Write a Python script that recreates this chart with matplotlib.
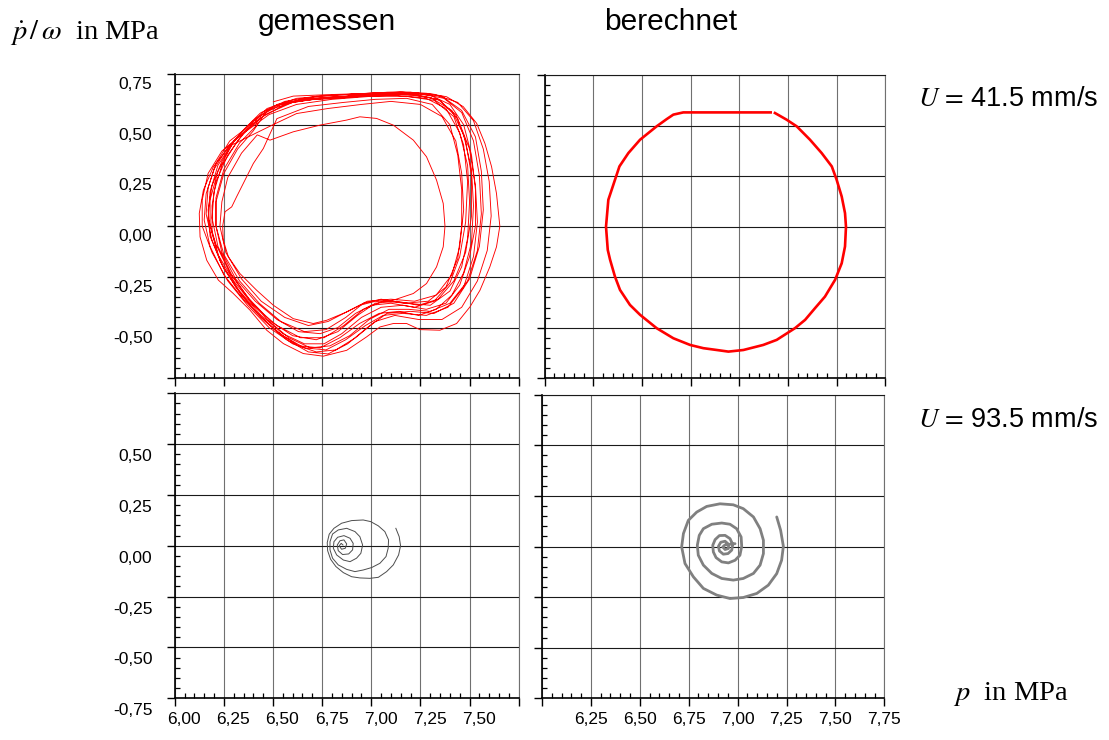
import matplotlib
matplotlib.use("Agg")
import matplotlib.pyplot as plt
import matplotlib.transforms as mtransforms
from matplotlib.ticker import FixedLocator, FixedFormatter, MultipleLocator

plt.rcParams["font.family"] = ["Liberation Sans", "DejaVu Sans"]
plt.rcParams["mathtext.fontset"] = "stix"

# ---------------------------------------------------------------- data
p_ticks = [6.00, 6.25, 6.50, 6.75, 7.00, 7.25, 7.50, 7.75]
v_ticks = [-0.75, -0.50, -0.25, 0.00, 0.25, 0.50, 0.75]

column_titles = ["gemessen", "berechnet"]
speed_labels = ["41.5 mm/s", "93.5 mm/s"]

# measured trajectory, U = 41.5 mm/s (p in MPa, dp/omega in MPa), one list per cycle
gem41_loop1 = [(6.502, 0.613), (6.603, 0.641), (6.773, 0.648), (7.000, 0.655), (7.146, 0.663),
               (7.281, 0.655), (7.383, 0.638), (7.468, 0.589), (7.536, 0.507), (7.578, 0.408),
               (7.612, 0.293), (7.637, 0.161), (7.654, 0.000), (7.637, -0.102), (7.603, -0.201),
               (7.553, -0.316), (7.502, -0.398), (7.434, -0.480), (7.349, -0.513), (7.247, -0.510),
               (7.180, -0.480), (7.112, -0.480), (7.044, -0.497), (6.976, -0.546), (6.875, -0.612),
               (6.756, -0.641), (6.654, -0.628), (6.553, -0.579), (6.468, -0.513), (6.383, -0.414),
               (6.298, -0.332), (6.222, -0.266), (6.163, -0.168), (6.129, -0.053), (6.125, 0.063),
               (6.146, 0.178), (6.197, 0.293), (6.264, 0.375), (6.349, 0.474), (6.434, 0.556)]
gem41_loop2 = [(6.40, 0.52), (6.52, 0.60), (6.68, 0.63), (6.85, 0.64), (7.00, 0.65), (7.15, 0.655),
               (7.30, 0.645), (7.40, 0.60), (7.47, 0.50), (7.51, 0.35), (7.53, 0.18), (7.53, 0.00),
               (7.50, -0.15), (7.45, -0.29), (7.38, -0.38), (7.28, -0.41), (7.16, -0.39), (7.05, -0.40),
               (6.95, -0.45), (6.85, -0.53), (6.76, -0.58), (6.66, -0.58), (6.55, -0.53), (6.44, -0.44),
               (6.33, -0.32), (6.24, -0.19), (6.18, -0.05), (6.17, 0.08), (6.19, 0.20), (6.24, 0.32),
               (6.31, 0.43)]
gem41_loop3 = [(6.48, 0.55), (6.62, 0.60), (6.80, 0.625), (7.00, 0.64), (7.18, 0.64), (7.32, 0.62),
               (7.42, 0.54), (7.47, 0.40), (7.49, 0.22), (7.48, 0.02), (7.45, -0.15), (7.40, -0.28),
               (7.32, -0.37), (7.22, -0.40), (7.10, -0.38), (7.00, -0.39), (6.92, -0.43), (6.83, -0.50),
               (6.74, -0.53), (6.63, -0.52), (6.52, -0.46), (6.41, -0.37), (6.31, -0.26), (6.24, -0.13),
               (6.21, 0.00), (6.21, 0.12), (6.25, 0.26), (6.32, 0.38), (6.40, 0.47)]
gem41_loop4 = [(6.38, 0.50), (6.50, 0.59), (6.65, 0.625), (6.82, 0.635), (7.00, 0.65), (7.20, 0.66),
               (7.36, 0.64), (7.46, 0.57), (7.53, 0.44), (7.56, 0.27), (7.57, 0.08), (7.55, -0.10),
               (7.50, -0.26), (7.42, -0.38), (7.32, -0.43), (7.20, -0.42), (7.08, -0.43), (6.98, -0.50),
               (6.88, -0.58), (6.78, -0.63), (6.68, -0.62), (6.57, -0.56), (6.46, -0.47), (6.35, -0.36),
               (6.25, -0.24), (6.18, -0.10), (6.15, 0.03), (6.16, 0.16), (6.20, 0.28), (6.27, 0.39)]
gem41_loop5 = [(6.43, 0.53), (6.58, 0.61), (6.75, 0.63), (6.95, 0.64), (7.12, 0.645), (7.28, 0.63),
               (7.38, 0.58), (7.45, 0.46), (7.49, 0.30), (7.50, 0.12), (7.49, -0.06), (7.46, -0.20),
               (7.40, -0.32), (7.30, -0.39), (7.18, -0.38), (7.06, -0.37), (6.96, -0.41), (6.86, -0.49),
               (6.76, -0.55), (6.64, -0.55), (6.52, -0.49), (6.40, -0.39), (6.30, -0.27), (6.22, -0.14),
               (6.18, 0.00), (6.18, 0.13), (6.22, 0.27), (6.29, 0.40)]
gem41_loop6 = [(6.50, 0.50), (6.62, 0.555), (6.78, 0.58), (6.95, 0.60), (7.10, 0.615), (7.25, 0.60),
               (7.36, 0.54), (7.43, 0.42), (7.46, 0.26), (7.47, 0.08), (7.45, -0.10), (7.41, -0.24),
               (7.33, -0.34), (7.22, -0.37), (7.10, -0.36), (6.98, -0.37), (6.88, -0.42), (6.78, -0.47),
               (6.68, -0.49), (6.56, -0.45), (6.44, -0.37), (6.34, -0.26), (6.26, -0.13), (6.23, 0.00),
               (6.24, 0.12), (6.27, 0.24), (6.34, 0.36), (6.42, 0.45)]
gem41_loop7 = [(6.485, 0.424), (6.603, 0.465), (6.739, 0.498), (6.875, 0.523), (6.942, 0.539),
               (7.027, 0.531), (7.112, 0.498), (7.214, 0.424), (7.281, 0.342), (7.332, 0.227),
               (7.366, 0.112), (7.375, 0.000), (7.366, -0.102), (7.332, -0.201), (7.281, -0.283),
               (7.214, -0.332), (7.112, -0.365), (7.010, -0.373), (6.942, -0.390), (6.875, -0.423),
               (6.773, -0.464), (6.705, -0.480), (6.603, -0.456), (6.502, -0.390), (6.417, -0.316),
               (6.332, -0.234), (6.273, -0.151), (6.247, -0.069), (6.244, 0.000), (6.256, 0.071),
               (6.290, 0.095), (6.315, 0.145), (6.349, 0.211), (6.400, 0.309), (6.451, 0.383)]
gem41_loop8 = [(6.36, 0.48), (6.47, 0.58), (6.62, 0.63), (6.80, 0.645), (6.98, 0.655), (7.16, 0.66),
               (7.32, 0.65), (7.44, 0.61), (7.52, 0.52), (7.57, 0.38), (7.60, 0.22), (7.61, 0.05),
               (7.59, -0.12), (7.54, -0.27), (7.46, -0.40), (7.36, -0.46), (7.24, -0.46), (7.12, -0.44),
               (7.02, -0.47), (6.92, -0.55), (6.82, -0.61), (6.72, -0.62), (6.60, -0.58), (6.48, -0.50),
               (6.37, -0.39), (6.27, -0.27), (6.19, -0.13), (6.14, 0.00), (6.14, 0.13), (6.17, 0.26),
               (6.24, 0.37)]
gem41_loop9 = [(6.46, 0.55), (6.60, 0.61), (6.78, 0.635), (6.97, 0.645), (7.14, 0.65), (7.30, 0.635),
               (7.41, 0.57), (7.47, 0.45), (7.51, 0.28), (7.52, 0.10), (7.51, -0.08), (7.47, -0.23),
               (7.41, -0.34), (7.33, -0.41), (7.24, -0.44), (7.14, -0.42), (7.04, -0.43), (6.94, -0.48),
               (6.84, -0.55), (6.74, -0.60), (6.63, -0.59), (6.52, -0.52), (6.41, -0.42), (6.31, -0.30),
               (6.23, -0.17), (6.19, -0.03), (6.19, 0.10), (6.21, 0.22), (6.27, 0.35), (6.35, 0.46)]
gem41_loop10 = [(6.52, 0.53), (6.68, 0.59), (6.86, 0.61), (7.02, 0.625), (7.18, 0.63), (7.31, 0.60),
                (7.40, 0.50), (7.44, 0.35), (7.46, 0.18), (7.46, 0.00), (7.44, -0.16), (7.38, -0.30),
                (7.29, -0.37), (7.17, -0.38), (7.05, -0.36), (6.96, -0.38), (6.87, -0.45), (6.77, -0.51),
                (6.66, -0.52), (6.54, -0.47), (6.43, -0.38), (6.33, -0.27), (6.25, -0.14), (6.21, 0.00),
                (6.21, 0.14), (6.25, 0.28), (6.33, 0.41), (6.42, 0.50)]
gem41_loop11 = [(6.44, 0.56), (6.56, 0.615), (6.72, 0.64), (6.90, 0.65), (7.08, 0.66), (7.24, 0.655),
                (7.37, 0.63), (7.46, 0.56), (7.52, 0.42), (7.55, 0.25), (7.56, 0.06), (7.54, -0.12),
                (7.49, -0.27), (7.40, -0.38), (7.30, -0.42), (7.19, -0.41), (7.09, -0.41), (6.99, -0.46),
                (6.89, -0.54), (6.79, -0.59), (6.69, -0.60), (6.58, -0.55), (6.47, -0.46), (6.37, -0.35),
                (6.28, -0.23), (6.21, -0.09), (6.17, 0.04), (6.18, 0.17), (6.22, 0.30), (6.30, 0.42)]
gem41_loop12 = [(6.47, 0.57), (6.63, 0.62), (6.82, 0.63), (7.02, 0.645), (7.20, 0.65), (7.34, 0.625),
                (7.43, 0.55), (7.48, 0.42), (7.51, 0.25), (7.51, 0.05), (7.48, -0.13), (7.42, -0.27),
                (7.34, -0.36), (7.24, -0.39), (7.13, -0.37), (7.02, -0.38), (6.93, -0.44), (6.83, -0.52),
                (6.72, -0.56), (6.60, -0.54), (6.49, -0.47), (6.38, -0.36), (6.29, -0.24), (6.22, -0.10),
                (6.19, 0.04), (6.20, 0.17), (6.24, 0.30), (6.32, 0.42), (6.40, 0.51)]
gem41_loop13 = [(6.41, 0.53), (6.54, 0.60), (6.70, 0.625), (6.88, 0.635), (7.05, 0.65), (7.22, 0.65),
                (7.35, 0.62), (7.44, 0.53), (7.50, 0.38), (7.53, 0.20), (7.54, 0.02), (7.52, -0.15),
                (7.47, -0.30), (7.39, -0.40), (7.28, -0.44), (7.16, -0.43), (7.06, -0.44), (6.97, -0.49),
                (6.87, -0.56), (6.77, -0.61), (6.66, -0.60), (6.55, -0.54), (6.44, -0.45), (6.34, -0.34),
                (6.25, -0.21), (6.19, -0.07), (6.16, 0.06), (6.17, 0.19), (6.21, 0.31), (6.28, 0.42)]

# computed limit cycle, U = 41.5 mm/s
ber41_p = [7.183, 7.243, 7.295, 7.363, 7.423, 7.475, 7.500, 7.526, 7.543, 7.548, 7.543, 7.526,
           7.492, 7.440, 7.389, 7.338, 7.286, 7.192, 7.123, 7.021, 6.944, 6.884, 6.815, 6.747,
           6.661, 6.575, 6.490, 6.438, 6.387, 6.361, 6.336, 6.324, 6.315, 6.327, 6.344, 6.384,
           6.430, 6.490, 6.575, 6.627, 6.661, 6.712, 7.161]
ber41_v = [0.562, 0.529, 0.496, 0.430, 0.364, 0.298, 0.232, 0.149, 0.067, 0.000, -0.098, -0.181,
           -0.263, -0.346, -0.403, -0.461, -0.502, -0.560, -0.585, -0.610, -0.618, -0.610, -0.601,
           -0.585, -0.552, -0.502, -0.436, -0.387, -0.313, -0.247, -0.164, -0.115, 0.000, 0.133,
           0.182, 0.298, 0.364, 0.430, 0.496, 0.532, 0.554, 0.565, 0.565]

# measured trajectory, U = 93.5 mm/s
gem93_p = [7.125, 7.142, 7.149, 7.139, 7.112, 7.078, 7.036, 6.993, 6.942, 6.900, 6.858, 6.820,
           6.793, 6.778, 6.776, 6.786, 6.810, 6.849, 6.900, 6.959, 6.997, 7.036, 7.069, 7.088,
           7.086, 7.075, 7.044, 7.002, 6.959, 6.917, 6.875, 6.832, 6.803, 6.790, 6.790, 6.803,
           6.832, 6.875, 6.917, 6.942, 6.956, 6.947, 6.925, 6.892, 6.858, 6.824, 6.807, 6.810,
           6.829, 6.861, 6.892, 6.908, 6.905, 6.885, 6.854, 6.832, 6.827, 6.841, 6.861, 6.875,
           6.868, 6.849, 6.837, 6.847, 6.856]
gem93_v = [0.086, 0.045, 0.000, -0.045, -0.094, -0.127, -0.155, -0.160, -0.158, -0.152, -0.132,
           -0.102, -0.066, -0.024, 0.016, 0.057, 0.086, 0.111, 0.124, 0.127, 0.119, 0.098, 0.070,
           0.029, -0.012, -0.053, -0.086, -0.107, -0.119, -0.127, -0.116, -0.094, -0.061, -0.020,
           0.020, 0.058, 0.078, 0.086, 0.070, 0.045, 0.004, -0.037, -0.061, -0.078, -0.070, -0.045,
           -0.012, 0.020, 0.042, 0.050, 0.037, 0.012, -0.020, -0.040, -0.043, -0.024, 0.004, 0.025,
           0.029, 0.009, -0.012, -0.017, 0.000, 0.012, 0.004]

# computed decaying spiral, U = 93.5 mm/s
ber93_p = [7.200, 7.220, 7.234, 7.225, 7.200, 7.157, 7.098, 7.029, 6.961, 6.893, 6.825, 6.774,
           6.731, 6.714, 6.723, 6.748, 6.791, 6.842, 6.910, 6.978, 7.029, 7.081, 7.115, 7.132,
           7.132, 7.115, 7.081, 7.029, 6.978, 6.919, 6.868, 6.825, 6.799, 6.794, 6.804, 6.825,
           6.868, 6.919, 6.961, 6.995, 7.018, 7.021, 7.012, 6.987, 6.953, 6.919, 6.890, 6.876,
           6.873, 6.885, 6.907, 6.936, 6.961, 6.975, 6.970, 6.951, 6.927, 6.907, 6.902, 6.914,
           6.936, 6.954, 6.953, 6.936, 6.924, 6.936, 6.961, 6.987]
ber93_v = [0.146, 0.080, 0.001, -0.068, -0.134, -0.191, -0.232, -0.252, -0.257, -0.240, -0.207,
           -0.150, -0.084, -0.002, 0.064, 0.129, 0.170, 0.198, 0.211, 0.206, 0.187, 0.146, 0.088,
           0.031, -0.035, -0.092, -0.133, -0.158, -0.166, -0.158, -0.133, -0.092, -0.043, 0.006,
           0.055, 0.088, 0.110, 0.116, 0.110, 0.088, 0.047, 0.001, -0.043, -0.068, -0.081, -0.076,
           -0.055, -0.027, 0.006, 0.034, 0.054, 0.055, 0.039, 0.011, -0.018, -0.035, -0.038, -0.022,
           0.001, 0.021, 0.026, 0.011, -0.010, -0.015, -0.002, 0.008, 0.011, 0.014]

# ---------------------------------------------------------------- layout
W, H = 1109, 740
fig = plt.figure(figsize=(W / 100, H / 100), dpi=100)


def px_box(x0, y0, x1, y1):
    return [x0 / W, 1 - y1 / H, (x1 - x0) / W, (y1 - y0) / H]


def fig_xy(x, y):
    return x / W, 1 - y / H


def fmt(t):
    return f"{t:.2f}".replace(".", ",")


def make_panel(box, x_shown, y_shown, xshift=0.0, yshift=0.0):
    ax = fig.add_axes(px_box(*box))
    ax.set_xlim(p_ticks[0], p_ticks[-1])
    ax.set_ylim(v_ticks[0], v_ticks[-1])
    ax.xaxis.set_major_locator(FixedLocator(p_ticks))
    ax.yaxis.set_major_locator(FixedLocator(v_ticks))
    ax.xaxis.set_major_formatter(FixedFormatter([fmt(t) if t in x_shown else "" for t in p_ticks]))
    ax.yaxis.set_major_formatter(FixedFormatter([fmt(t) if t in y_shown else "" for t in v_ticks]))
    ax.xaxis.set_minor_locator(MultipleLocator(0.05))
    ax.yaxis.set_minor_locator(MultipleLocator(0.05))
    ax.grid(axis="x", which="major", color="#707070", lw=0.8)
    ax.grid(axis="y", which="major", color="#1a1a1a", lw=0.8)
    ax.set_axisbelow(True)
    ax.tick_params(which="major", direction="out", length=5.5, width=1.0, color="black",
                   labelsize=12.5, labelcolor="black")
    ax.tick_params(axis="x", which="major", pad=4.5)
    ax.tick_params(axis="y", which="major", pad=10.5)
    ax.tick_params(which="minor", direction="in", length=3.6, width=0.9, color="black")
    for side in ("left", "bottom"):
        ax.spines[side].set_linewidth(1.2)
        ax.spines[side].set_color("black")
    ax.spines["top"].set_linewidth(0.8)
    ax.spines["top"].set_color("#1a1a1a")
    ax.spines["right"].set_linewidth(0.8)
    ax.spines["right"].set_color("#707070")
    if xshift:
        off = mtransforms.ScaledTranslation(xshift / 100, 0, fig.dpi_scale_trans)
        for tick in ax.xaxis.get_major_ticks():
            tick.label1.set_transform(tick.label1.get_transform() + off)
    if yshift:
        off = mtransforms.ScaledTranslation(0, -yshift / 100, fig.dpi_scale_trans)
        for tick in ax.yaxis.get_major_ticks():
            tick.label1.set_transform(tick.label1.get_transform() + off)
    return ax


ax_tl = make_panel((174.7, 74.0, 518.7, 378.3), [], v_ticks[1:], yshift=9)
ax_tr = make_panel((544.7, 75.0, 885.3, 378.3), [], [])
ax_bl = make_panel((174.7, 393.3, 518.7, 698.3), p_ticks[:-1], v_ticks[:-1], xshift=9.5, yshift=11)
ax_br = make_panel((542.0, 394.7, 884.3, 698.3), p_ticks[1:], [])

# ---------------------------------------------------------------- curves
gem41_cycles = [gem41_loop1, gem41_loop11, gem41_loop2, gem41_loop3, gem41_loop12, gem41_loop4,
                gem41_loop5, gem41_loop6, gem41_loop7, gem41_loop10, gem41_loop13, gem41_loop8,
                gem41_loop9]
traj_p, traj_v = [], []
for cycle in gem41_cycles:
    traj_p += [pt[0] for pt in cycle]
    traj_v += [pt[1] for pt in cycle]
traj_p.append(gem41_cycles[-1][0][0])
traj_v.append(gem41_cycles[-1][0][1])
ax_tl.plot(traj_p, traj_v, color="#ff0000", lw=0.65, solid_joinstyle="round")

ax_tr.plot(ber41_p, ber41_v, color="#ff0000", lw=1.9, solid_joinstyle="round")
ax_bl.plot(gem93_p, gem93_v, color="#4d4d4d", lw=0.7, solid_joinstyle="round")
ax_br.plot(ber93_p, ber93_v, color="#808080", lw=2.0, solid_joinstyle="round",
           solid_capstyle="round")

# ---------------------------------------------------------------- annotations
fig.text(*fig_xy(10, 39), r"$\dot{p}\,/\,\omega$  in MPa", family="Liberation Serif",
         fontsize=20.5, ha="left", va="baseline")
fig.text(*fig_xy(327, 30), column_titles[0], fontsize=21.5, ha="center", va="baseline")
fig.text(*fig_xy(671, 30), column_titles[1], fontsize=21.5, ha="center", va="baseline")
fig.text(*fig_xy(918, 106), r"$U\,=\,$" + speed_labels[0], fontsize=19.5, ha="left",
         va="baseline")
fig.text(*fig_xy(918, 427), r"$U\,=\,$" + speed_labels[1], fontsize=19.5, ha="left",
         va="baseline")
fig.text(*fig_xy(953, 700), r"$p$  in MPa", family="Liberation Serif", fontsize=20.5,
         ha="left", va="baseline")

fig.savefig("out.png", dpi=100)
